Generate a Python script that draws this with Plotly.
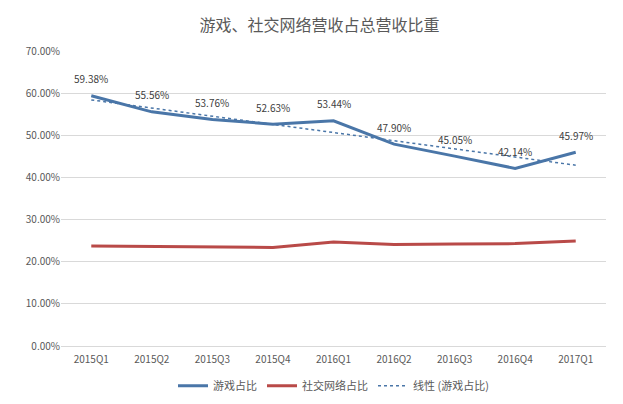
import plotly.graph_objects as go

quarters = ['2015Q1', '2015Q2', '2015Q3', '2015Q4', '2016Q1',
            '2016Q2', '2016Q3', '2016Q4', '2017Q1']
game_share = [59.38, 55.56, 53.76, 52.63, 53.44, 47.90, 45.05, 42.14, 45.97]
social_share = [23.7, 23.6, 23.4, 23.4, 24.7, 24.1, 24.2, 24.3, 24.9]
# linear trend of game share, read at first and last quarter
trend_x = ['2015Q1', '2017Q1']
trend_y = [58.4, 42.9]

FONT = 'Noto Sans CJK SC'
GREY = '#595959'

fig = go.Figure()
fig.add_trace(go.Scatter(
    x=quarters, y=game_share, name='游戏占比', mode='lines',
    line=dict(color='#4a76a8', width=3)))
fig.add_trace(go.Scatter(
    x=quarters, y=social_share, name='社交网络占比', mode='lines',
    line=dict(color='#b94a48', width=3)))
fig.add_trace(go.Scatter(
    x=trend_x, y=trend_y, name='线性 (游戏占比)', mode='lines',
    line=dict(color='#4a76a8', width=1.5, dash='dot')))

# data labels above the game-share line
for q, v in zip(quarters, game_share):
    fig.add_annotation(x=q, y=v, text=f'{v:.2f}%', showarrow=False,
                       yshift=17, font=dict(size=10, color='#404040', family=FONT))

fig.update_layout(
    width=623, height=404,
    margin=dict(l=53, r=25, t=43, b=55),
    paper_bgcolor='white', plot_bgcolor='white',
    font=dict(family=FONT, color=GREY, size=10),
    title=dict(text='游戏、社交网络营收占总营收比重', x=0.5, xanchor='center',
               y=0.958, yanchor='middle', font=dict(size=16, color=GREY)),
    showlegend=True,
    legend=dict(orientation='h', x=0.5, xanchor='center', y=-0.135, yanchor='middle',
                font=dict(size=11, color=GREY), itemwidth=30, tracegroupgap=0),
)
fig.update_xaxes(type='category', range=[-0.5, 8.5], showgrid=False,
                 showline=False, ticks='', ticklabelstandoff=6,
                 tickfont=dict(size=10, color=GREY))
fig.update_yaxes(range=[0, 70], dtick=10, ticksuffix='.00%', showgrid=True,
                 gridcolor='#d9d9d9', gridwidth=1, zeroline=True,
                 zerolinecolor='#d9d9d9', zerolinewidth=1, showline=False,
                 tickfont=dict(size=10, color=GREY))

fig.write_html('out.html')
